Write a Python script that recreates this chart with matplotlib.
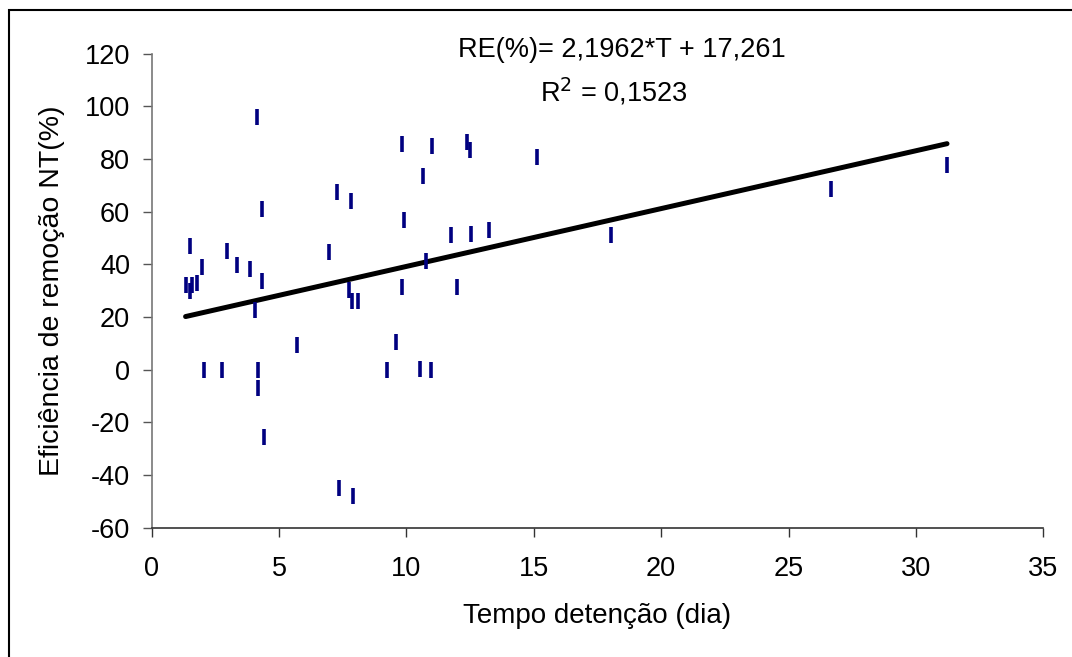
import matplotlib
matplotlib.use("Agg")
import matplotlib.pyplot as plt
from matplotlib.patches import Rectangle
import numpy as np

plt.rcParams['font.family'] = ['Liberation Sans', 'DejaVu Sans']
plt.rcParams['axes.unicode_minus'] = False

# Data
tempo = [4.12, 7.29, 1.50, 2.96, 4.33, 6.96, 1.98, 3.36, 3.86, 4.34,
         1.33, 1.50, 1.57, 1.76, 4.07, 5.70, 2.07, 2.76, 4.17, 4.17,
         4.39, 10.65, 7.83, 9.92, 11.75, 12.54, 13.23, 10.77, 7.74, 9.84,
         11.98, 7.88, 8.11, 9.58, 9.22, 10.55, 10.96, 7.34, 7.91, 9.83,
         11.02, 12.37, 12.49, 15.14, 18.04, 26.65, 31.22]
eficiencia = [96.0, 67.4, 46.9, 45.2, 61.0, 44.8, 39.0, 39.7, 38.2, 33.6,
              32.0, 29.9, 32.1, 32.9, 22.5, 9.4, 0.0, 0.0, 0.0, -6.8,
              -25.7, 73.7, 63.9, 56.7, 51.2, 51.7, 53.0, 41.4, 30.2, 31.5,
              31.5, 26.1, 26.2, 10.7, 0.0, 0.4, 0.0, -45.1, -48.1, 85.7,
              84.9, 86.5, 83.3, 80.9, 51.3, 68.7, 77.7]
slope = 2.1962
intercept = 17.261
r2 = 0.1523

x_ticks = [0, 5, 10, 15, 20, 25, 30, 35]
y_ticks = [-60, -40, -20, 0, 20, 40, 60, 80, 100, 120]

fig = plt.figure(figsize=(10.72, 6.57), dpi=100)
fig.patch.set_facecolor('white')

# outer chart border
fig.patches.append(Rectangle((9/1072, -0.05), 1.2, (657-10)/657 + 0.05,
                             transform=fig.transFigure, fill=False,
                             edgecolor='black', linewidth=1.5, zorder=0))

ax = fig.add_axes([151.7/1072, (657-527.7)/657, (1043.3-151.7)/1072, (527.7-53.7)/657])
ax.set_xlim(0, 35)
ax.set_ylim(-60, 120)

ax.plot(tempo, eficiencia, linestyle='none', marker='|', markersize=11,
        markeredgewidth=2.6, color='#000080', zorder=3)

tx = np.array([min(tempo), max(tempo)])
ax.plot(tx, slope * tx + intercept, color='black', linewidth=3.6,
        solid_capstyle='round', zorder=2)

ax.set_xticks(x_ticks)
ax.set_yticks(y_ticks)
ax.tick_params(axis='both', labelsize=19.5, length=6.5, width=1, direction='out')
ax.tick_params(axis='x', pad=14, color='#333333')
ax.tick_params(axis='y', pad=9, color='#555555')

for s in ['top', 'right']:
    ax.spines[s].set_visible(False)
ax.spines['left'].set_color('#777777')
ax.spines['bottom'].set_color('#333333')
ax.spines['left'].set_linewidth(1.2)
ax.spines['bottom'].set_linewidth(1.2)

ax.set_xlabel('Tempo detenção (dia)', fontsize=20, labelpad=15)
ax.set_ylabel('Eficiência de remoção NT(%)', fontsize=20.5, labelpad=14)

fig.text(622/1072, 1 - 50/657, 'RE(%)= 2,1962*T + 17,261', fontsize=19.5,
         ha='center', va='center')
fig.text(614/1072, 1 - 92/657, r'R$^2$ = 0,1523', fontsize=19.5,
         ha='center', va='center')

fig.savefig('out.png', dpi=100, facecolor='white')
